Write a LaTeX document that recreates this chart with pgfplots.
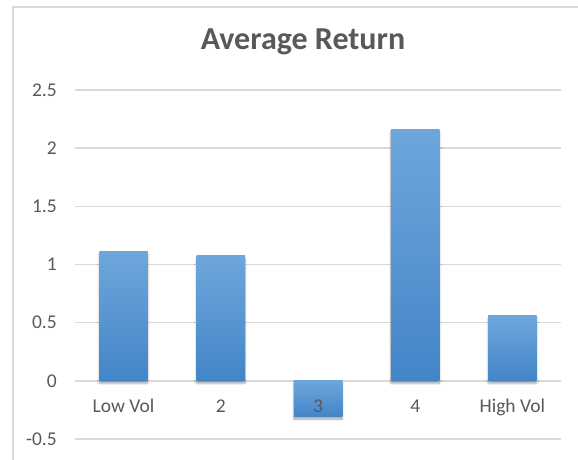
\documentclass[border=0pt]{standalone}
\usepackage{pgfplots}
\pgfplotsset{compat=1.18}
\usepackage{fontspec}
\setmainfont{Carlito}
\usetikzlibrary{shadows.blur}

\definecolor{txtgray}{HTML}{595959}
\definecolor{gridgray}{HTML}{D9D9D9}
\definecolor{bartop}{HTML}{6EA6DC}
\definecolor{barbot}{HTML}{4385C8}

\pgfplotsset{
  frame/.style={
    at={(75pt,20pt)}, anchor=south west,
    scale only axis, width=486pt, height=349pt,
    xmin=-0.5, xmax=4.5, ymin=-0.5, ymax=2.5,
    axis line style={draw=none},
    major tick length=0pt,
    tick label style={font=\fontsize{19.5}{23}\selectfont, text=txtgray},
    clip=false,
  },
  retbar/.style={ybar, bar width=48.5pt, bar shift=0pt, draw=none,
    top color=bartop, bottom color=barbot,
    blur shadow={shadow xshift=0pt, shadow yshift=-2.5pt,
                 shadow opacity=35, shadow blur steps=6}},
}

\begin{document}
\begin{tikzpicture}[x=1pt,y=1pt]
  % chart frame
  \draw[gridgray, line width=1.5pt] (13,-20) -- (13,452) -- (620,452);

  % grid, value labels and bars
  \begin{axis}[
    frame,
    ymajorgrids, grid style={gridgray, line width=1.4pt},
    ytick={-0.5,0,0.5,1,1.5,2,2.5},
    yticklabels={-0.5,0,0.5,1,1.5,2,2.5},
    yticklabel style={anchor=east, inner sep=0pt, xshift=-18pt},
    xtick=\empty,
  ]
    \addplot[retbar] coordinates {(0,1.108)};
    \addplot[retbar] coordinates {(1,1.074)};
    \addplot[retbar] coordinates {(2,-0.307)};
    \addplot[retbar] coordinates {(3,2.162)};
    \addplot[retbar] coordinates {(4,0.558)};
  \end{axis}

  % category labels, drawn over the bars
  \begin{axis}[
    frame,
    ytick=\empty,
    xtick={0,1,2,3,4},
    xticklabels={Low Vol,2,3,4,High Vol},
    xticklabel style={anchor=base, inner sep=0pt, yshift=26.3pt},
  ]
  \end{axis}

  \node[anchor=base, text=txtgray, font=\fontsize{32}{38}\selectfont\bfseries]
    at (303,409) {Average Return};

  \pgfresetboundingbox
  \useasboundingbox (0,0) rectangle (578,459);
\end{tikzpicture}
\end{document}
